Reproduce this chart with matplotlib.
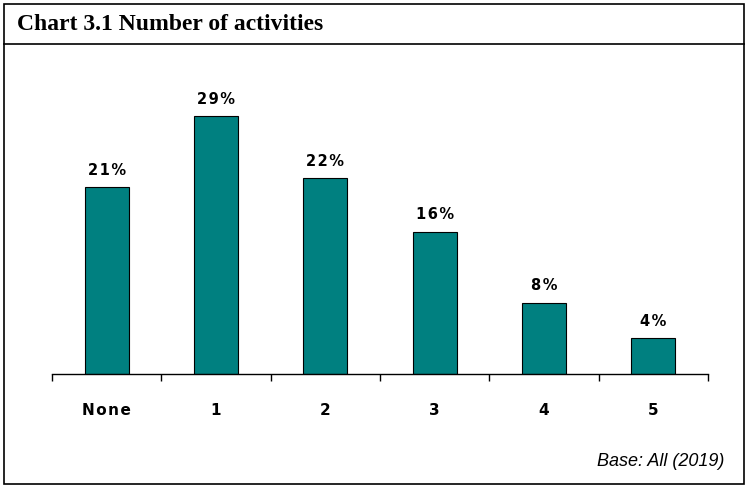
# Bar chart of number of activities (Chart 3.1)

import matplotlib.pyplot as plt
from matplotlib.patches import Rectangle
from matplotlib.lines import Line2D

# Data
categories = ['None', '1', '2', '3', '4', '5']
shares = [21, 29, 22, 16, 8, 4]   # percent of respondents

title = 'Chart 3.1 Number of activities'
base_note = 'Base: All (2019)'


def spaced(text):
    # Fake letter spacing with hair spaces between characters
    return '\u200a'.join(text)


fig = plt.figure(figsize=(7.46, 4.88), dpi=100)
W, H = 746, 488

# Outer frame and title separator
fig.patches.append(Rectangle((4 / W, 4 / H), 740 / W, 480 / H, transform=fig.transFigure,
                             fill=False, edgecolor='black', linewidth=1.2))
fig.lines.append(Line2D([4 / W, 744 / W], [1 - 44 / H, 1 - 44 / H],
                        transform=fig.transFigure, color='black', linewidth=1.2))

fig.text(17 / W, 1 - 25 / H, title, fontsize=17, fontweight='bold',
         family='Liberation Serif', va='center', ha='left')

# Plot area
ax = fig.add_axes([52 / W, 114 / H, 656 / W, 314 / H])
x = range(len(categories))
bars = ax.bar(x, shares, width=0.4, color='#008080', edgecolor='black', linewidth=0.8)

for bar, val in zip(bars, shares):
    ax.text(bar.get_x() + bar.get_width() / 2, val + 1.9, spaced(f'{val}%'),
            ha='center', va='center', fontsize=10.5, fontweight='bold',
            family='DejaVu Sans')

ax.set_xlim(-0.5, len(categories) - 0.5)
ax.set_ylim(0, 35.3)

for side in ['left', 'right', 'top']:
    ax.spines[side].set_visible(False)
ax.spines['bottom'].set_linewidth(1.0)
ax.set_yticks([])

# Labels at bar centres, tick marks at category boundaries
ax.set_xticks(list(x))
ax.set_xticklabels([spaced(c) for c in categories], fontsize=11, fontweight='bold',
                   family='DejaVu Sans')
ax.tick_params(axis='x', which='major', length=0, pad=21)
ax.set_xticks([i - 0.5 for i in range(len(categories) + 1)], minor=True)
ax.tick_params(axis='x', which='minor', length=5, width=1.0, direction='out')

fig.text(724 / W, 1 - 462 / H, base_note, fontsize=13, style='italic',
         family='Liberation Sans', ha='right', va='center')

fig.savefig('out.png', dpi=100)
